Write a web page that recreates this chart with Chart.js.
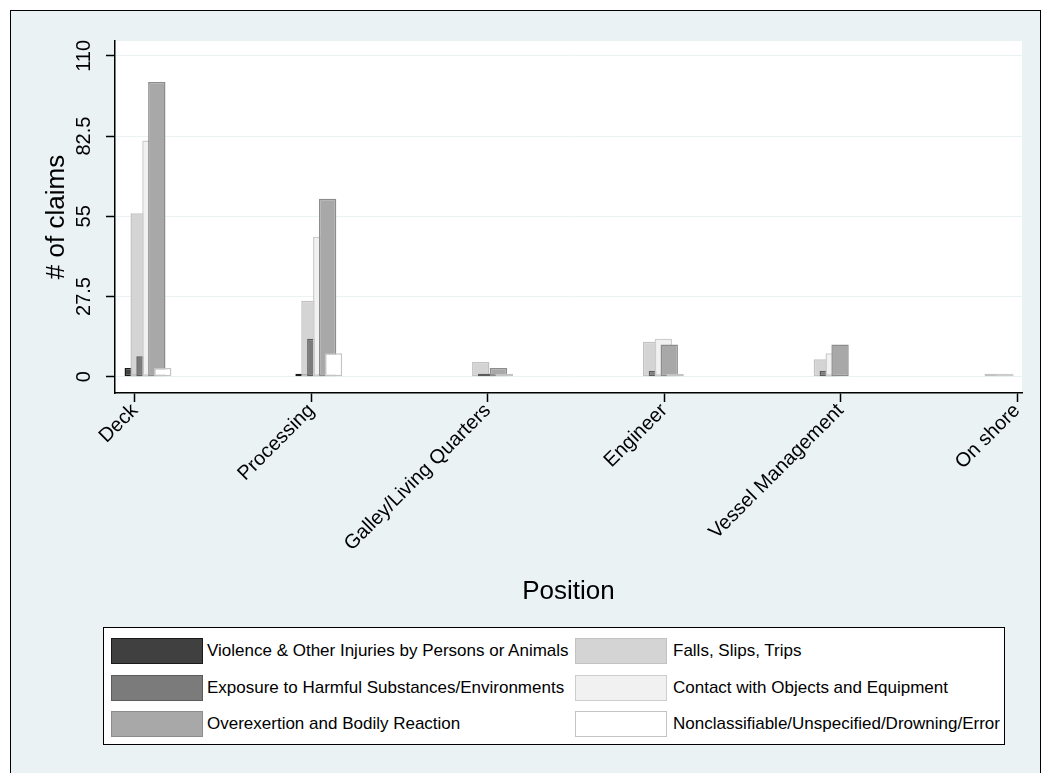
<!DOCTYPE html>
<html>
<head>
<meta charset="utf-8">
<title>Claims by position</title>
<script src="https://cdn.jsdelivr.net/npm/chart.js@4.4.0/dist/chart.umd.min.js"></script>
<style>
  body { margin: 0; width: 1050px; height: 773px; overflow: hidden; position: relative; background: #fff;
         font-family: "Liberation Sans", Arial, sans-serif; }
  #frame { position: absolute; left: 10px; top: 10px; width: 1029px; height: 790px; border: 1px solid #000; background: #eaf2f3; }
  #plot { position: absolute; left: 0; top: 0; }
  #legend { position: absolute; left: 103px; top: 627px; width: 900px; height: 116px; border: 1px solid #000;
            background: #fff; overflow: hidden; }
  .sw { position: absolute; width: 90px; height: 24px; border: 1px solid #999; }
  .lb { position: absolute; font-size: 17px; color: #000; white-space: nowrap; line-height: 26px; }
</style>
</head>
<body>
<div id="frame"></div>
<canvas id="plot" width="1050" height="620"></canvas>
<div id="legend"></div>

<script>
var positions = ['Deck', 'Processing', 'Galley/Living Quarters', 'Engineer', 'Vessel Management', 'On shore'];

// claims per position, one array per injury type
var violence     = [3, 1, 0, 0, 0, 0];
var falls        = [56, 26, 5, 12, 6, 1];
var exposure     = [7, 13, 1, 2, 2, 0];
var contact      = [81, 48, 0, 13, 8, 1];
var overexertion = [101, 61, 3, 11, 11, 0];
var nonclass     = [3, 8, 1, 1, 0, 0];

var yTicks = [0, 27.5, 55, 82.5, 110];

// bar order left to right inside a group (also legend order, row by row)
var seriesNames = [
  'Violence & Other Injuries by Persons or Animals',
  'Falls, Slips, Trips',
  'Exposure to Harmful Substances/Environments',
  'Contact with Objects and Equipment',
  'Overexertion and Bodily Reaction',
  'Nonclassifiable/Unspecified/Drowning/Error'
];
var seriesValues = [violence, falls, exposure, contact, overexertion, nonclass];
var fills = ['#404040', '#d4d4d4', '#7b7b7b', '#f1f1f1', '#a8a8a8', '#ffffff'];
var edges = ['#1a1a1a', '#c2c2c2', '#5c5c5c', '#cdcdcd', '#8c8c8c', '#c4c4c4'];

Chart.defaults.font.family = "'Liberation Sans', Arial, sans-serif";
Chart.defaults.color = '#000';

var datasets = seriesNames.map(function (name, k) {
  return {
    label: name,
    xAxisID: 'xb',
    data: seriesValues[k].map(function (v, i) { return { x: i, y: v }; }),
    backgroundColor: fills[k],
    borderColor: edges[k],
    borderWidth: 1.5,
    borderSkipped: false,
    inflateAmount: 0,
    barPercentage: 2.95,
    categoryPercentage: 0.207
  };
});

function intTicks(s) {
  s.ticks = positions.map(function (p, i) { return { value: i }; });
}

// white plot region
var plotBg = {
  id: 'plotBg',
  beforeDraw: function (chart) {
    var a = chart.chartArea, ctx = chart.ctx;
    ctx.save();
    ctx.fillStyle = '#fff';
    ctx.fillRect(a.left, a.top, a.right - a.left, a.bottom - a.top);
    ctx.restore();
  }
};

// paint series first to last so later bars sit on top of earlier ones
var paintForward = {
  id: 'paintForward',
  beforeDatasetsDraw: function (chart) {
    var a = chart.chartArea, ctx = chart.ctx;
    chart.getSortedVisibleDatasetMetas().forEach(function (meta) {
      ctx.save();
      ctx.beginPath();
      ctx.rect(a.left, a.top, a.right - a.left, a.bottom - a.top);
      ctx.clip();
      meta.controller.draw();
      ctx.restore();
    });
    return false;
  }
};

var claimsChart = new Chart('plot', {
  type: 'bar',
  data: { datasets: datasets },
  plugins: [plotBg, paintForward],
  options: {
    responsive: false,
    animation: false,
    layout: { padding: { left: 35, top: 41, right: 28, bottom: 0 } },
    plugins: { legend: { display: false }, tooltip: { enabled: false } },
    scales: {
      // axis the bar groups sit on (not shown)
      xb: {
        type: 'linear',
        display: false,
        min: -0.193,
        max: 5.117,
        offset: false,
        afterBuildTicks: intTicks
      },
      x: {
        type: 'linear',
        min: -0.113,
        max: 5.028,
        offset: false,
        afterBuildTicks: intTicks,
        afterFit: function (s) { s.height = 227; },
        grid: { drawOnChartArea: false, offset: false, tickLength: 9, tickColor: '#000', tickWidth: 1.5 },
        border: { color: '#000', width: 1.5 },
        ticks: {
          autoSkip: false, minRotation: 45, maxRotation: 45, padding: -3,
          font: { size: 20 },
          callback: function (v) { return positions[v]; }
        },
        title: { display: true, text: 'Position', font: { size: 26 }, padding: { top: 0, bottom: 13 } }
      },
      y: {
        min: -5.6,
        max: 115.1,
        afterBuildTicks: function (s) { s.ticks = yTicks.map(function (v) { return { value: v }; }); },
        afterFit: function (s) { s.width = 80; },
        grid: { color: '#eaf2f3', lineWidth: 1, tickColor: '#000', tickLength: 9, tickWidth: 1.5 },
        border: { color: '#000', width: 1.5 },
        ticks: {
          minRotation: 90, maxRotation: 90, crossAlign: 'center', padding: 2,
          font: { size: 20 },
          callback: function (v) { return String(v); }
        },
        title: { display: true, text: '# of claims', font: { size: 26 }, padding: { top: 6, bottom: 0 } }
      }
    }
  }
});

// legend box, two columns
var legend = document.getElementById('legend');
seriesNames.forEach(function (name, k) {
  var row = Math.floor(k / 2), col = k % 2;
  var top = 10 + row * 36.5;
  var sw = document.createElement('div');
  sw.className = 'sw';
  sw.style.left = (col ? 471 : 7) + 'px';
  sw.style.top = top + 'px';
  sw.style.background = fills[k];
  sw.style.borderColor = edges[k];
  legend.appendChild(sw);
  var lb = document.createElement('div');
  lb.className = 'lb';
  lb.style.left = (col ? 569 : 103) + 'px';
  lb.style.top = top + 'px';
  lb.textContent = name;
  legend.appendChild(lb);
});
</script>
</body>
</html>
